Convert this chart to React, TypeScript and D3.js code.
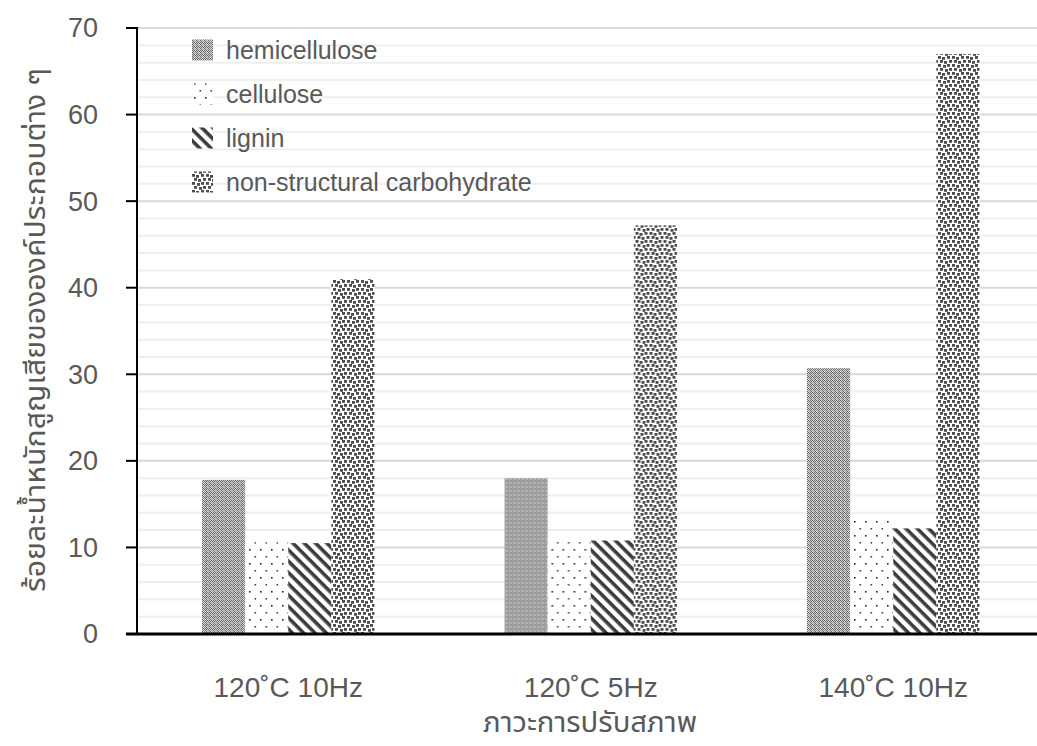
import * as React from 'react'
import * as d3 from 'd3'

// conditions on the x axis
const categories = ['120˚C 10Hz', '120˚C 5Hz', '140˚C 10Hz']
const seriesNames = ['hemicellulose', 'cellulose', 'lignin', 'non-structural carbohydrate']
const hemicellulose = [17.8, 18.0, 30.7]
const cellulose = [10.6, 11.0, 13.3]
const lignin = [10.5, 10.8, 12.2]
const nonStructural = [41.0, 47.2, 67.0]
const yTicks = [0, 10, 20, 30, 40, 50, 60, 70]
const yTitle = 'ร้อยละน้ำหนักสูญเสียขององค์ประกอบต่าง ๆ'
const xTitle = 'ภาวะการปรับสภาพ'

const seriesValues = [hemicellulose, cellulose, lignin, nonStructural]
const patternIds = ['pHemi', 'pCell', 'pLig', 'pNsc']

const W = 1037
const H = 746
const margin = { left: 137, top: 28, bottom: 112 }
const textColor = '#595959'
const font = '"Liberation Sans", Arial, sans-serif'
const thaiFont = '"Noto Sans Thai", "Noto Sans", "DejaVu Sans", sans-serif'

// random-looking square spots for the non-structural pattern
const spots = [
  [0, 0], [5, 1], [9, 0], [2, 4], [7, 5], [11, 4], [0, 8], [4, 9], [9, 8], [2, 12], [6, 13], [11, 12],
]

export default function App() {
  const y = d3.scaleLinear().domain([0, 70]).range([H - margin.bottom, margin.top])
  const x0 = d3.scaleBand().domain(categories).range([margin.left, margin.left + 907.5]).padding(0)
  const bw = x0.bandwidth()
  const x1 = d3.scaleBand().domain(seriesNames).range([bw * 0.215, bw * 0.785]).padding(0)
  const minor = d3.range(0, 71, 2).filter(v => v % 10 !== 0)

  return (
    <svg width={W} height={H} style={{ position: 'absolute', left: 0, top: 0, background: '#fff' }}>
      <defs>
        <pattern id="pHemi" width={4} height={4} patternUnits="userSpaceOnUse">
          <rect width={4} height={4} fill="#d4d4d4" />
          <rect x={0} y={0} width={1} height={1} fill="#666" />
          <rect x={2} y={0} width={1} height={1} fill="#666" />
          <rect x={1} y={1} width={1} height={1} fill="#666" />
          <rect x={3} y={1} width={1} height={1} fill="#666" />
          <rect x={0} y={2} width={1} height={1} fill="#666" />
          <rect x={2} y={2} width={1} height={1} fill="#999" />
          <rect x={1} y={3} width={1} height={1} fill="#666" />
          <rect x={3} y={3} width={1} height={1} fill="#999" />
        </pattern>
        <pattern id="pCell" width={11} height={14} patternUnits="userSpaceOnUse">
          <rect width={11} height={14} fill="#fff" />
          <rect x={2} y={3} width={1.6} height={1.6} fill="#222" />
          <rect x={7.5} y={10} width={1.6} height={1.6} fill="#444" />
        </pattern>
        <pattern id="pLig" width={8} height={8} patternUnits="userSpaceOnUse" patternTransform="rotate(45)">
          <rect width={8} height={8} fill="#fff" />
          <rect x={0} y={0} width={8} height={3.6} fill="#3c3c3c" />
        </pattern>
        <pattern id="pNsc" width={14} height={16} patternUnits="userSpaceOnUse">
          <rect width={14} height={16} fill="#fff" />
          {spots.map((s, i) => (
            <rect key={i} x={s[0]} y={s[1]} width={3} height={2.8} fill="#4d4d4d" />
          ))}
        </pattern>
      </defs>

      {/* gridlines */}
      {minor.map(v => (
        <line key={'m' + v} x1={margin.left} x2={W} y1={y(v)} y2={y(v)} stroke="#efefef" strokeWidth={2} />
      ))}
      {yTicks.filter(v => v > 0).map(v => (
        <line key={'g' + v} x1={margin.left} x2={W} y1={y(v)} y2={y(v)} stroke="#d9d9d9" strokeWidth={2} />
      ))}

      {/* bars */}
      {categories.map((c, ci) => (
        <g key={c} transform={`translate(${x0(c)},0)`}>
          {seriesNames.map((s, si) => (
            <rect
              key={s}
              x={x1(s)}
              y={y(seriesValues[si][ci])}
              width={x1.bandwidth()}
              height={y(0) - y(seriesValues[si][ci])}
              fill={`url(#${patternIds[si]})`}
            />
          ))}
        </g>
      ))}

      {/* axes */}
      <line x1={margin.left} x2={margin.left} y1={y(70) - 1} y2={y(0)} stroke="#000" strokeWidth={2} />
      {yTicks.map(v => (
        <g key={'t' + v}>
          <line x1={margin.left - 11} x2={margin.left} y1={y(v)} y2={y(v)} stroke="#000" strokeWidth={2} />
          <text x={98} y={y(v)} dy="0.35em" textAnchor="end" fontFamily={font} fontSize={27} fill={textColor}>
            {v}
          </text>
        </g>
      ))}
      <line x1={margin.left - 11} x2={W} y1={y(0)} y2={y(0)} stroke="#000" strokeWidth={3} />

      {categories.map(c => (
        <text key={'x' + c} x={(x0(c) as number) + bw / 2} y={697} textAnchor="middle" fontFamily={font} fontSize={28} fill={textColor}>
          {c}
        </text>
      ))}

      {/* axis titles */}
      <text x={590} y={732} textAnchor="middle" fontFamily={thaiFont} fontSize={28} fill={textColor}
        textLength={214} lengthAdjust="spacingAndGlyphs">
        {xTitle}
      </text>
      <text transform="translate(45,330) rotate(-90)" textAnchor="middle" fontFamily={thaiFont} fontSize={28} fill={textColor}
        textLength={524} lengthAdjust="spacingAndGlyphs">
        {yTitle}
      </text>

      {/* legend */}
      {seriesNames.map((s, i) => (
        <g key={'l' + s} transform={`translate(192,${50 + i * 44})`}>
          <rect x={0} y={-10.5} width={21} height={21} fill={`url(#${patternIds[i]})`} />
          <text x={34} y={0} dy="0.35em" fontFamily={font} fontSize={25} fill={textColor}>
            {s}
          </text>
        </g>
      ))}
    </svg>
  )
}
